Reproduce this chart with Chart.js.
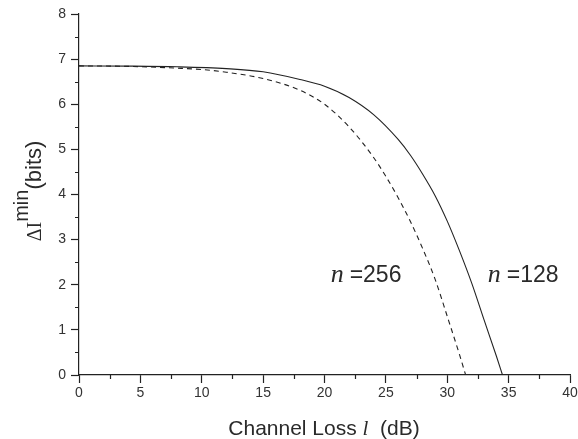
<!DOCTYPE html>
<html><head><meta charset="utf-8">
<script src="https://cdn.jsdelivr.net/npm/chart.js@4"></script>
<style>html,body{margin:0;padding:0;background:#fff}#c{display:block}</style>
</head><body>
<div style="width:578px;height:439px"><canvas id="c" width="578" height="439"></canvas></div>
<script>
const lossN128 = [0, 4, 8, 12, 15, 18, 20, 22, 24, 26, 27, 28, 29, 30, 31, 32, 33, 34, 34.5];
const infoN128 = [6.85, 6.845, 6.83, 6.79, 6.72, 6.55, 6.40, 6.15, 5.77, 5.22, 4.87, 4.45, 3.98, 3.41, 2.75, 2.03, 1.22, 0.42, 0];
const lossN256 = [0, 4, 8, 10, 12, 15, 18, 20, 22, 24, 25, 26, 27, 28, 29, 30, 31, 31.5];
const infoN256 = [6.85, 6.84, 6.80, 6.77, 6.71, 6.57, 6.31, 6.0, 5.5, 4.82, 4.4, 3.93, 3.4, 2.8, 2.13, 1.3, 0.45, 0];
const xTickLabels = ['0','5','10','15','20','25','30','35','40'];
const yTickLabels = ['0','1','2','3','4','5','6','7','8'];
const seriesLabels = ['n =128', 'n =256'];
const labelSpots = [[33.3, 2.05], [20.5, 2.05]];

const ink = '#222';
const majorX = v => Math.abs(v % 5) < 1e-9;
const majorY = v => Math.abs(v % 1) < 1e-9;

const minorTicks = {
  id: 'minorTicks',
  afterDraw(chart) {
    const ctx = chart.ctx;
    const xs = chart.scales.x, ys = chart.scales.y;
    ctx.save();
    ctx.strokeStyle = ink;
    ctx.lineWidth = 1.2;
    ctx.beginPath();
    xs.ticks.forEach(t => {
      if (!majorX(t.value)) {
        const p = Math.round(xs.getPixelForValue(t.value)) + 0.5;
        ctx.moveTo(p, ys.bottom); ctx.lineTo(p, ys.bottom + 4);
      }
    });
    ys.ticks.forEach(t => {
      if (!majorY(t.value)) {
        const p = Math.round(ys.getPixelForValue(t.value)) + 0.5;
        ctx.moveTo(xs.left, p); ctx.lineTo(xs.left - 4, p);
      }
    });
    ctx.stroke();
    ctx.restore();
  }
};

const textPlugin = {
  id: 'texts',
  afterDraw(chart) {
    const ctx = chart.ctx;
    const xs = chart.scales.x, ys = chart.scales.y;
    ctx.save();
    ctx.fillStyle = '#2a2a2a';
    ctx.textBaseline = 'alphabetic';
    ctx.textAlign = 'left';
    // x axis title
    const parts = [
      {t: 'Channel Loss ', f: '21px "Liberation Sans", Arial, sans-serif'},
      {t: 'l', f: 'italic 21px "Liberation Serif", serif'},
      {t: '  (dB)', f: '21px "Liberation Sans", Arial, sans-serif'}
    ];
    let w = 0;
    parts.forEach(p => { ctx.font = p.f; w += ctx.measureText(p.t).width; });
    let x0 = 324 - w / 2;
    parts.forEach(p => { ctx.font = p.f; ctx.fillText(p.t, x0, 435); x0 += ctx.measureText(p.t).width; });
    // y axis title rotated
    ctx.save();
    ctx.translate(41, 191);
    ctx.rotate(-Math.PI / 2);
    const yParts = [
      {t: '\u0394I', f: '20px "Liberation Serif", serif', dy: 0},
      {t: 'min', f: '20px "Liberation Sans", Arial, sans-serif', dy: -13},
      {t: '(bits)', f: '22px "Liberation Sans", Arial, sans-serif', dy: 0}
    ];
    let wy = 0;
    yParts.forEach(p => { ctx.font = p.f; wy += ctx.measureText(p.t).width; });
    let yx = -wy / 2;
    yParts.forEach(p => { ctx.font = p.f; ctx.fillText(p.t, yx, p.dy); yx += ctx.measureText(p.t).width; });
    ctx.restore();
    // series annotations
    function note(label, px, py) {
      const [n, rest] = label.split(' ');
      ctx.font = 'italic 26px "Liberation Serif", serif';
      ctx.fillText(n, px, py);
      const x = px + ctx.measureText(n).width + 6;
      ctx.font = '23px "Liberation Sans", Arial, sans-serif';
      ctx.fillText(rest, x, py);
    }
    seriesLabels.forEach((lab, i) => {
      note(lab, xs.getPixelForValue(labelSpots[i][0]), ys.getPixelForValue(labelSpots[i][1]));
    });
    ctx.restore();
  }
};

new Chart(document.getElementById('c'), {
  type: 'line',
  data: {
    datasets: [
      {
        label: seriesLabels[0],
        data: lossN128.map((x, i) => ({x, y: infoN128[i]})),
        borderColor: ink, borderWidth: 1.1, pointRadius: 0, fill: false,
        cubicInterpolationMode: 'monotone'
      },
      {
        label: seriesLabels[1],
        data: lossN256.map((x, i) => ({x, y: infoN256[i]})),
        borderColor: ink, borderWidth: 1.1, borderDash: [5, 4], pointRadius: 0, fill: false,
        cubicInterpolationMode: 'monotone'
      }
    ]
  },
  options: {
    responsive: false,
    animation: false,
    layout: {padding: {top: 14, right: 8, left: 0, bottom: 0}},
    plugins: {legend: {display: false}, tooltip: {enabled: false}},
    scales: {
      x: {
        type: 'linear', min: 0, max: 40,
        afterFit(s) { s.height = 64; s.paddingRight = 0; s.paddingLeft = 0; },
        border: {display: true, color: ink, width: 1.2},
        grid: {drawOnChartArea: false, drawTicks: true, tickLength: 8,
               tickColor: c => (majorX(c.tick.value) ? ink : 'rgba(0,0,0,0)'), tickWidth: 1.2},
        ticks: {
          stepSize: 2.5, autoSkip: false, maxRotation: 0, padding: 2, color: '#333',
          font: {family: '"Liberation Sans", Arial, sans-serif', size: 14},
          callback: v => (majorX(v) ? xTickLabels[Math.round(v / 5)] : '')
        }
      },
      y: {
        type: 'linear', min: 0, max: 8,
        afterFit(s) { s.width = 79; },
        border: {display: true, color: ink, width: 1.2},
        grid: {drawOnChartArea: false, drawTicks: true, tickLength: 8,
               tickColor: c => (majorY(c.tick.value) ? ink : 'rgba(0,0,0,0)'), tickWidth: 1.2},
        ticks: {
          stepSize: 0.5, autoSkip: false, padding: 5, color: '#333',
          font: {family: '"Liberation Sans", Arial, sans-serif', size: 14},
          callback: v => (majorY(v) ? yTickLabels[Math.round(v)] : '')
        }
      }
    }
  },
  plugins: [minorTicks, textPlugin]
});
</script>
</body></html>
